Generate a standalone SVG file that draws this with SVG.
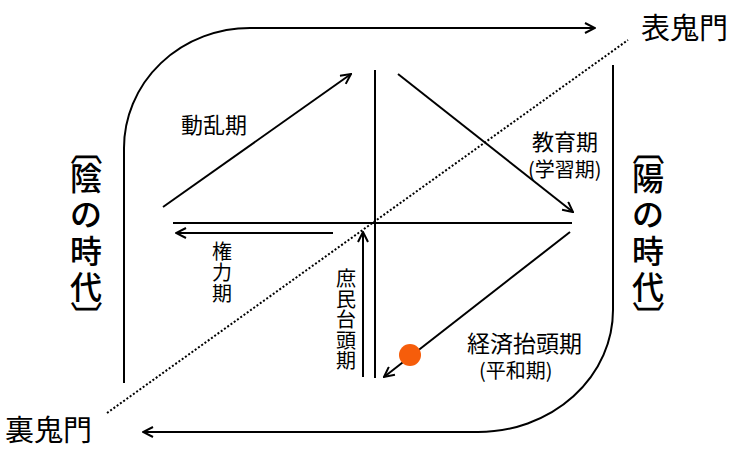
<svg xmlns="http://www.w3.org/2000/svg" width="735" height="460" viewBox="0 0 735 460">
<defs>
<style>
.ln{fill:none;stroke:#000;stroke-width:2}
.dot{fill:none;stroke:#000;stroke-width:2;stroke-dasharray:2 2}
.t{font-family:"Noto Sans CJK JP","Noto Sans CJK SC",sans-serif;fill:#000}
.big{font-size:32px;text-anchor:middle;font-weight:500}
.gate{font-size:29px}
.v{text-anchor:middle}
</style>
<marker id="ah" viewBox="0 0 12 12" refX="11" refY="6" markerWidth="12" markerHeight="12" markerUnits="userSpaceOnUse" orient="auto">
<path d="M1,1 L11,6 L1,11" fill="none" stroke="#000" stroke-width="2"/>
</marker>
</defs>
<rect width="735" height="460" fill="#fff"/>
<g id="connectors">
<path class="ln" d="M124,383 V148 A126 120 0 0 1 250,28 H595" marker-end="url(#ah)"/>
<path class="ln" d="M613,65 V310 A135 122 0 0 1 478,432 H143" marker-end="url(#ah)"/>
<line class="dot" x1="107" y1="413" x2="628" y2="40"/>
<line class="ln" x1="375" y1="70" x2="375" y2="378"/>
<line class="ln" x1="173" y1="223" x2="572" y2="223"/>
<line class="ln" x1="163" y1="207" x2="351" y2="74" marker-end="url(#ah)"/>
<line class="ln" x1="398" y1="74" x2="573" y2="212" marker-end="url(#ah)"/>
<line class="ln" x1="333" y1="233" x2="176" y2="233" marker-end="url(#ah)"/>
<line class="ln" x1="363" y1="377" x2="363" y2="232" marker-end="url(#ah)"/>
<line class="ln" x1="570" y1="232" x2="384" y2="377" marker-end="url(#ah)"/>
</g>
<g id="dot"><circle cx="410" cy="355" r="11" fill="#f65d0b"/></g>
<g id="omote"><text class="t gate" x="641" y="39">表鬼門</text></g>
<g id="ura"><text class="t gate" x="5" y="441">裏鬼門</text></g>
<g id="inn">
<text class="t big" transform="translate(74,149) rotate(90)">〔</text>
<text class="t big"><tspan x="86" y="190">陰</tspan><tspan x="86" y="226">の</tspan><tspan x="86" y="263">時</tspan><tspan x="86" y="299">代</tspan></text>
<text class="t big" transform="translate(74,317) rotate(90)">〕</text>
</g>
<g id="you">
<text class="t big" transform="translate(636,149) rotate(90)">〔</text>
<text class="t big"><tspan x="648" y="190">陽</tspan><tspan x="648" y="226">の</tspan><tspan x="648" y="263">時</tspan><tspan x="648" y="299">代</tspan></text>
<text class="t big" transform="translate(636,317) rotate(90)">〕</text>
</g>
<g id="douran"><text class="t" x="181" y="133" font-size="22">動乱期</text></g>
<g id="kyouiku">
<text class="t" x="532" y="150" font-size="22">教育期</text>
<text class="t" x="528" y="177" font-size="20">(学習期)</text>
</g>
<g id="kenryoku">
<text class="t v" font-size="20"><tspan x="222" y="259">権</tspan><tspan x="222" y="280">力</tspan><tspan x="222" y="301">期</tspan></text>
</g>
<g id="shomin">
<text class="t v" font-size="20"><tspan x="346" y="286">庶</tspan><tspan x="346" y="306.5">民</tspan><tspan x="346" y="327">台</tspan><tspan x="346" y="347.5">頭</tspan><tspan x="346" y="368">期</tspan></text>
</g>
<g id="keizai">
<text class="t" x="467" y="352" font-size="23">経済抬頭期</text>
<text class="t" x="479" y="378" font-size="20">(平和期)</text>
</g>
</svg>
